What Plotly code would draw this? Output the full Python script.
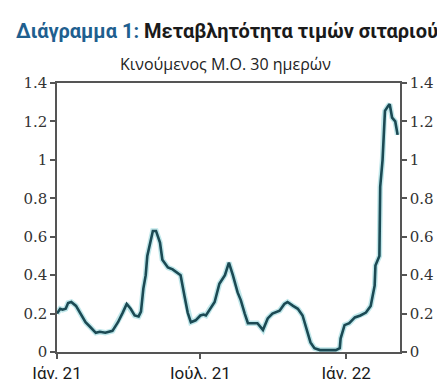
import plotly.graph_objects as go

dates = [
    "2021-01-01", "2021-01-05", "2021-01-08", "2021-01-12", "2021-01-15", "2021-01-19",
    "2021-01-25", "2021-01-31", "2021-02-06", "2021-02-12", "2021-02-19", "2021-02-24",
    "2021-03-03", "2021-03-12", "2021-03-19", "2021-03-25", "2021-03-30", "2021-04-04",
    "2021-04-09", "2021-04-14", "2021-04-17", "2021-04-20", "2021-04-23", "2021-04-25",
    "2021-04-29", "2021-05-02", "2021-05-06", "2021-05-11", "2021-05-14", "2021-05-21",
    "2021-05-27", "2021-06-02", "2021-06-06", "2021-06-11", "2021-06-15", "2021-06-19",
    "2021-06-25", "2021-07-01", "2021-07-05", "2021-07-08", "2021-07-13", "2021-07-19",
    "2021-07-25", "2021-08-01", "2021-08-06", "2021-08-08", "2021-08-11", "2021-08-17",
    "2021-08-21", "2021-08-26", "2021-08-30", "2021-09-05", "2021-09-11", "2021-09-18",
    "2021-09-24", "2021-09-30", "2021-10-09", "2021-10-15", "2021-10-19", "2021-10-26",
    "2021-11-01", "2021-11-07", "2021-11-13", "2021-11-17", "2021-11-22", "2021-11-29",
    "2021-12-09", "2021-12-19", "2021-12-24", "2021-12-25", "2021-12-30", "2022-01-05",
    "2022-01-12", "2022-01-19", "2022-01-26", "2022-02-01", "2022-02-06", "2022-02-07",
    "2022-02-12", "2022-02-13", "2022-02-16", "2022-02-18", "2022-02-19", "2022-02-23",
    "2022-02-25", "2022-02-28", "2022-03-04", "2022-03-07",
]
volatility = [
    0.20, 0.225, 0.22, 0.225, 0.255, 0.26,
    0.24, 0.20, 0.155, 0.13, 0.10, 0.105,
    0.10, 0.11, 0.155, 0.205, 0.25, 0.225,
    0.19, 0.185, 0.21, 0.33, 0.40, 0.50,
    0.57, 0.63, 0.63, 0.57, 0.48, 0.44,
    0.43, 0.41, 0.40, 0.29, 0.205, 0.155,
    0.165, 0.19, 0.195, 0.19, 0.225, 0.26,
    0.355, 0.40, 0.465, 0.44, 0.40, 0.31,
    0.27, 0.20, 0.15, 0.15, 0.15, 0.115,
    0.175, 0.20, 0.215, 0.25, 0.26, 0.24,
    0.225, 0.19, 0.11, 0.05, 0.02, 0.01,
    0.01, 0.01, 0.02, 0.07, 0.14, 0.15,
    0.18, 0.19, 0.205, 0.24, 0.345, 0.45,
    0.50, 0.86, 1.0, 1.22, 1.255, 1.28,
    1.29, 1.22, 1.20, 1.13,
]

x_tick_vals = ["2021-01-01", "2021-07-01", "2022-01-01"]
x_tick_text = ["Ιάν. 21", "Ιούλ. 21", "Ιάν. 22"]
y_tick_vals = [0, 0.2, 0.4, 0.6, 0.8, 1.0, 1.2, 1.4]
y_tick_text = ["0", "0.2", "0.4", "0.6", "0.8", "1", "1.2", "1.4"]

fig = go.Figure()
# soft glow under the line
fig.add_trace(go.Scatter(x=dates, y=volatility, mode="lines",
                         line=dict(color="rgba(150,215,220,0.6)", width=5.5),
                         hoverinfo="skip", showlegend=False))
fig.add_trace(go.Scatter(x=dates, y=volatility, mode="lines",
                         line=dict(color="#1b4a54", width=2.6),
                         showlegend=False))
# invisible trace for right axis
fig.add_trace(go.Scatter(x=dates, y=volatility, mode="lines", yaxis="y2",
                         line=dict(color="rgba(0,0,0,0)", width=0),
                         hoverinfo="skip", showlegend=False))

axis_line = dict(showline=True, linecolor="#555555", linewidth=1.5,
                 ticks="outside", ticklen=5, tickwidth=1.5, tickcolor="#555555",
                 showgrid=False, zeroline=False)
yfont = dict(family="DejaVu Serif", size=15, color="#333333")

fig.update_layout(
    width=445, height=387,
    margin=dict(l=49, r=53, t=75, b=40),
    paper_bgcolor="white", plot_bgcolor="white",
    xaxis=dict(range=["2021-01-01", "2022-03-10"], tickvals=x_tick_vals,
               ticktext=x_tick_text, mirror=True,
               tickfont=dict(family="Roboto", size=17, color="#1a1a1a"),
               **axis_line),
    yaxis=dict(range=[0, 1.4], tickvals=y_tick_vals, ticktext=y_tick_text,
               tickfont=yfont, **axis_line),
    yaxis2=dict(range=[0, 1.4], tickvals=y_tick_vals, ticktext=y_tick_text,
                overlaying="y", side="right", tickfont=yfont, **axis_line),
    annotations=[
        dict(text="<b><span style='color:#1f5f8f'>Διάγραμμα 1:</span> Μεταβλητότητα τιμών σιταριού</b>",
             x=0.5, y=1.195, xref="paper", yref="paper", xanchor="center", yanchor="middle",
             xshift=-1.5, showarrow=False,
             font=dict(family="Roboto", size=20, color="#1a1a1a")),
        dict(text="Κινούμενος Μ.Ο. 30 ημερών",
             x=0.5, y=1.07, xref="paper", yref="paper", xanchor="center", yanchor="middle",
             xshift=-3, showarrow=False,
             font=dict(family="Open Sans", size=16, color="#222222")),
    ],
)

fig.write_html("out.html")
